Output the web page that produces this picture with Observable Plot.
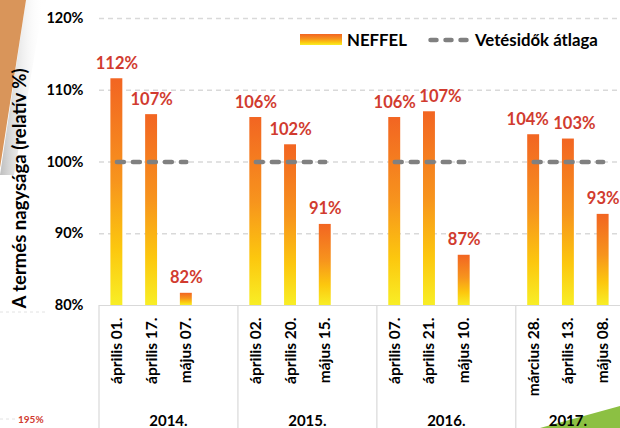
<!DOCTYPE html>
<html><head><meta charset="utf-8">
<script src="https://cdn.jsdelivr.net/npm/d3@7"></script>
<script src="https://cdn.jsdelivr.net/npm/@observablehq/plot@0.6"></script>
<style>
html,body{margin:0;padding:0;background:#fff;}
#wrap{position:relative;width:620px;height:428px;overflow:hidden;font-family:Lato,"Open Sans",sans-serif;}
#deco{position:absolute;left:0;top:0;z-index:0;}
#chart{position:absolute;left:0;top:0;z-index:1;}
#legend{position:absolute;left:300px;top:29px;z-index:2;display:flex;align-items:center;font-weight:bold;font-size:16.8px;color:#000;white-space:nowrap;}
#legend .sw{width:42px;height:11px;background:linear-gradient(to bottom,#f26522 0%,#f7941d 45%,#fcc70e 75%,#f8ee26 100%);margin-right:5px;}
</style></head><body>
<div id="wrap">
<svg id="deco" width="620" height="428">
  <defs>
    <linearGradient id="shade" x1="0" y1="0" x2="1" y2="0">
      <stop offset="0" stop-color="#a8a8a8" stop-opacity="0.75"/>
      <stop offset="1" stop-color="#ffffff" stop-opacity="0"/>
    </linearGradient>
  </defs>
  <polygon points="26,0 44,0 14,175 0,175" fill="url(#shade)"/>
  <polygon points="0,0 26,0 0,168" fill="#d9955a"/>
  <polygon points="540,428 620,406 620,428" fill="#8cc043"/>
  <line x1="0" x2="48" y1="312" y2="312" stroke="#e2e2e2" stroke-dasharray="3,3"/>
  <line x1="0" x2="15" y1="419" y2="419" stroke="#e2e2e2" stroke-dasharray="3,3"/>
  <text x="18" y="423" fill="#d13b2f" font-size="10" font-weight="bold" font-family="Lato,sans-serif">195%</text>
</svg>
<div id="chart"></div>
<div id="legend"><div class="sw"></div><span>NEFFEL</span>
<svg width="46" height="12" style="margin-left:21px;margin-right:1px"><line x1="2.5" x2="44" y1="6" y2="6" stroke="#808080" stroke-width="4.5" stroke-linecap="round" stroke-dasharray="6,9"/></svg><span>Vetésidők átlaga</span></div>
</div>
<script>
// ---- data ----
const years = ["2014.", "2015.", "2016.", "2017."];
const dates = [
  ["április 01.", "április 17.", "május 07."],
  ["április 02.", "április 20.", "május 15."],
  ["április 07.", "április 21.", "május 10."],
  ["március 28.", "április 13.", "május 08."]
];
const values = [
  [111.6, 106.6, 81.7],
  [106.2, 102.4, 91.3],
  [106.2, 107.0, 87.0],
  [103.8, 103.2, 92.7]
];
const valueLabels = [
  ["112%", "107%", "82%"],
  ["106%", "102%", "91%"],
  ["106%", "107%", "87%"],
  ["104%", "103%", "93%"]
];
const average = [100, 100, 100, 100];
const yTicks = [80, 90, 100, 110, 120];
const yDomain = [80, 120];
const yTitle = "A termés nagysága (relatív %)";

// ---- layout ----
const W = 620, H = 428, ML = 99, MR = 0, MT = 18, MB = 123;

// ---- build tables ----
const slots = [];
const bars = [];
const groups = [];
years.forEach((yr, gi) => {
  const keys = dates[gi].map((d, di) => `${gi}:${di}`);
  const gb = [];
  dates[gi].forEach((d, di) => {
    slots.push(keys[di]);
    const b = {key: keys[di], date: d, value: values[gi][di], label: valueLabels[gi][di], ldx: 0};
    bars.push(b); gb.push(b);
  });
  const g = {year: yr, first: keys[0], last: keys[keys.length - 1], avg: average[gi], n: keys.length, bars: gb};
  if (gi < years.length - 1) { slots.push(`${gi}:gap`); g.n += 1; }
  groups.push(g);
});
const dateOf = new Map(bars.map(b => [b.key, b.date]));

// simple label collision avoidance (labels of neighbouring bars at similar height)
const LABEL_W = 43, LABEL_H = 14;
const stepPx = (W - ML - MR) / slots.length;
const pxPerUnit = (H - MT - MB) / (yDomain[1] - yDomain[0]);
groups.forEach(g => {
  for (let i = 1; i < g.bars.length; i++) {
    const a = g.bars[i - 1], b = g.bars[i];
    const over = LABEL_W + 3 - stepPx;
    if (Math.abs(a.value - b.value) * pxPerUnit < LABEL_H && over > 0) {
      if (b.value > a.value) b.ldx += over;
      else { a.ldx -= over / 2; b.ldx += over / 2; }
    }
  }
});
bars.forEach(b => b.ldx = Math.round(b.ldx));
const offsets = [...new Set(bars.map(b => b.ldx))];

function gradientDefs() {
  const defs = d3.create("svg:defs");
  const lg = defs.append("linearGradient").attr("id", "barGrad")
    .attr("x1", 0).attr("y1", 0).attr("x2", 0).attr("y2", 1);
  [[0, "#f26522"], [0.45, "#f7941d"], [0.75, "#fcc70e"], [1, "#f8ee26"]]
    .forEach(([o, c]) => lg.append("stop").attr("offset", o).attr("stop-color", c));
  return defs.node();
}

function groupFrame(index, scales, values, dimensions) {
  const {width, height, marginLeft, marginRight, marginTop, marginBottom} = dimensions;
  const r0 = marginLeft, r1 = width - marginRight;
  const step = (r1 - r0) / slots.length;
  const yBase = height - marginBottom;
  const g = d3.create("svg:g").attr("font-family", "Lato,sans-serif").attr("font-weight", "bold").attr("fill", "#000");
  groups.forEach(gr => {
    const i0 = slots.indexOf(gr.first);
    const xs = r0 + i0 * step, xe = xs + gr.n * step;
    g.append("line").attr("x1", xs).attr("x2", xs).attr("y1", yBase).attr("y2", height)
      .attr("stroke", "#d9d9d9").attr("stroke-width", 1.2);
    g.append("text").attr("x", (xs + xe) / 2).attr("y", height - 2)
      .attr("text-anchor", "middle").attr("font-size", 15).text(gr.year);
  });
  const cy = (marginTop + yBase) / 2 + 27;
  g.append("text").attr("transform", `translate(${marginLeft - 79},${cy}) rotate(-90)`)
    .attr("text-anchor", "middle").attr("dy", "0.35em").attr("font-size", 18.5).text(yTitle);
  return g.node();
}

const plot = Plot.plot({
  width: W,
  height: H,
  marginLeft: ML,
  marginRight: MR,
  marginTop: MT,
  marginBottom: MB,
  style: {background: "transparent", fontFamily: "Lato,sans-serif"},
  x: {type: "band", domain: slots, padding: 0, round: false},
  y: {domain: yDomain},
  marks: [
    gradientDefs,
    Plot.gridY(yTicks.filter(t => t > yDomain[0]), {stroke: "#d9d9d9", strokeOpacity: 1, strokeWidth: 1.3, strokeDasharray: "5,4"}),
    Plot.ruleY([yDomain[0]], {stroke: "#d9d9d9", strokeWidth: 1.2}),
    groupFrame,
    Plot.barY(bars, {x: "key", y1: yDomain[0], y2: "value", fill: "url(#barGrad)", insetLeft: 11.4, insetRight: 11.4}),
    Plot.link(groups, {x1: "first", x2: "last", y1: "avg", y2: "avg", stroke: "#808080", strokeWidth: 4.5, strokeLinecap: "round", strokeDasharray: "7,9"}),
    ...offsets.map(o => Plot.text(bars.filter(b => b.ldx === o), {x: "key", y: "value", text: "label", lineAnchor: "bottom", dx: o, dy: -10, fill: "#d13b2f", fontSize: 16.5, fontWeight: "bold"})),
    Plot.axisY(yTicks, {tickFormat: d => d + "%", tickSize: 0, tickPadding: 16, fontSize: 14.5, fontWeight: "bold", color: "#000", label: null}),
    Plot.axisX({tickRotate: -90, tickSize: 0, tickPadding: 12, tickFormat: k => dateOf.get(k) || "", fontSize: 15.5, fontWeight: "bold", color: "#000", label: null})
  ]
});
document.getElementById("chart").appendChild(plot);
</script>
</body></html>
